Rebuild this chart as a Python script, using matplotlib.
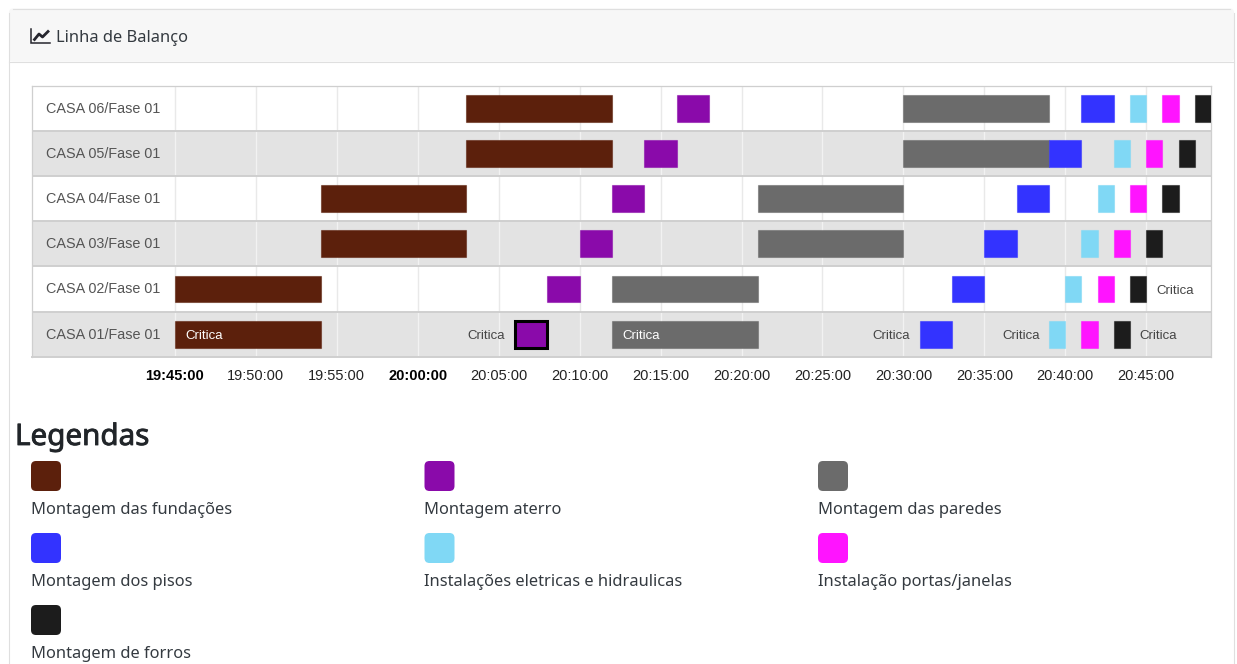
import matplotlib
matplotlib.use('Agg')
import matplotlib.pyplot as plt
import matplotlib.patheffects as pe
from matplotlib.colors import to_rgba
from matplotlib.patches import FancyBboxPatch, Rectangle

# Times are minutes after 19:45:00
houses = ['CASA 01/Fase 01', 'CASA 02/Fase 01', 'CASA 03/Fase 01',
          'CASA 04/Fase 01', 'CASA 05/Fase 01', 'CASA 06/Fase 01']

activities = ['Montagem das fundações', 'Montagem aterro', 'Montagem das paredes',
              'Montagem dos pisos', 'Instalações eletricas e hidraulicas',
              'Instalação portas/janelas', 'Montagem de forros']
colors = ['#5c200c', '#8a0aaa', '#6b6b6b', '#3333ff', '#80d8f5', '#ff14ff', '#1c1c1c']

# one list per activity, one (start, end) per house
fundacoes = [(0, 9), (0, 9), (9, 18), (9, 18), (18, 27), (18, 27)]
aterro = [(21, 23), (23, 25), (25, 27), (27, 29), (29, 31), (31, 33)]
paredes = [(27, 36), (27, 36), (36, 45), (36, 45), (45, 54), (45, 54)]
pisos = [(46, 48), (48, 50), (50, 52), (52, 54), (54, 56), (56, 58)]
eletricas = [(54, 55), (55, 56), (56, 57), (57, 58), (58, 59), (59, 60)]
portas = [(56, 57), (57, 58), (58, 59), (59, 60), (60, 61), (61, 62)]
forros = [(58, 59), (59, 60), (60, 61), (61, 62), (62, 63), (63, 64)]
schedule = [fundacoes, aterro, paredes, pisos, eletricas, portas, forros]

tick_minutes = list(range(0, 61, 5))
tick_labels = ['19:45:00', '19:50:00', '19:55:00', '20:00:00', '20:05:00', '20:10:00', '20:15:00',
               '20:20:00', '20:25:00', '20:30:00', '20:35:00', '20:40:00', '20:45:00']
bold_ticks = ['19:45:00', '20:00:00']

# (activity, house, side of the bar for the label)
critical = [(0, 0, 'inside'), (1, 0, 'left'), (2, 0, 'inside'), (3, 0, 'left'),
            (4, 0, 'left'), (6, 0, 'right'), (6, 1, 'right')]

W, H = 1237, 664
page_font = 'Noto Sans'
chart_font = 'Liberation Sans'


def px(size):
    return size * 0.72


fig = plt.figure(figsize=(W / 100, H / 100), dpi=100, facecolor='white')

# page layer, in pixels
page = fig.add_axes([0, 0, 1, 1])
page.set_xlim(0, W)
page.set_ylim(H, 0)
page.axis('off')

page.add_patch(FancyBboxPatch((9, 8.5), 1225, 53, boxstyle='round,pad=0,rounding_size=4',
                              fc='#f7f7f7', ec='none'))
page.plot([9, 9], [12.5, H], color='#dfdfdf', lw=0.8)
page.plot([1234, 1234], [12.5, H], color='#dfdfdf', lw=0.8)
page.plot([13, 1230], [8.5, 8.5], color='#dfdfdf', lw=0.8)
page.plot([9, 1234], [62, 62], color='#dfdfdf', lw=0.8)

# line chart icon
page.plot([31, 31, 50], [29, 43, 43], color='#26262e', lw=1.1, solid_joinstyle='miter')
page.plot([34.5, 39, 42.5, 48], [39.5, 34, 37, 31.5], color='#26262e', lw=2)
page.text(56, 37.5, 'Linha de Balanço', fontsize=px(16.4), family=page_font,
          color='#343a40', va='center', ha='left')

page.text(15, 437.5, 'Legendas', fontsize=px(29.6), family=page_font,
          color='#212529', va='center', ha='left',
          path_effects=[pe.withStroke(linewidth=0.6, foreground='#212529')])

for i, (name, col) in enumerate(zip(activities, colors)):
    x = 31 + 393.5 * (i % 3)
    y = 461 + 72 * (i // 3)
    page.add_patch(FancyBboxPatch((x, y), 30, 30, boxstyle='round,pad=0,rounding_size=5',
                                  fc=col, ec='none'))
    page.text(x, y + 49.5, name, fontsize=px(16.5), family=page_font, color='#343a40',
              va='center', ha='left')

# chart layer, the left part of the axes holds the row labels
left, right, top, bottom = 32, 1211, 85.6, 356.8
per_minute = (1147 - 175) / 60
ax = fig.add_axes([left / W, 1 - bottom / H, (right - left) / W, (bottom - top) / H])
ax.set_xlim((left - 175) / per_minute, 64)
ax.set_ylim(-0.5, 5.5)
ax.patch.set_alpha(0)

for r, house in enumerate(houses):
    shaded = r % 2 == 0
    ax.axhspan(r - 0.5, r + 0.5, color='#e3e3e3' if shaded else 'white', lw=0, zorder=0)
    ax.vlines(tick_minutes, r - 0.5, r + 0.5, color='#f2f2f2' if shaded else '#e9e9e9',
              lw=1, zorder=1)
    ax.hlines(r + 0.5, ax.get_xlim()[0], 64, color='#cfcfcf', lw=1.4, zorder=2)
    ax.text(-7.97, r - 0.01, house, fontsize=px(14.4), family=chart_font, color='#555555',
            va='center', ha='left', zorder=5)

for a, spans in enumerate(schedule):
    for r, (start, end) in enumerate(spans):
        ax.barh(r, end - start, left=start, height=0.595, color=colors[a],
                edgecolor=to_rgba(colors[a], 0.55), lw=0.8, zorder=3 + a * 0.01)

for a, r, side in critical:
    start, end = schedule[a][r]
    if side == 'inside':
        ax.text(start + 0.66, r - 0.035, 'Critica', fontsize=px(13.3), family=chart_font,
                color='white', va='center', ha='left', zorder=6)
    elif side == 'left':
        ax.text(start - 0.6, r - 0.035, 'Critica', fontsize=px(13.3), family=chart_font,
                color='#444444', va='center', ha='right', zorder=6)
    else:
        ax.text(end + 0.6, r - 0.035, 'Critica', fontsize=px(13.3), family=chart_font,
                color='#444444', va='center', ha='left', zorder=6)

# the critical fill stage gets a heavy black outline
start, end = aterro[0]
ax.add_patch(Rectangle((start, -0.3), end - start, 0.6, fc=colors[1], ec='black', lw=2.2, zorder=4))

for side in ['top', 'left', 'right', 'bottom']:
    ax.spines[side].set_color('#cfcfcf')
    ax.spines[side].set_linewidth(0.9)
ax.spines['bottom'].set_linewidth(1.4)

ax.set_yticks([])
ax.set_xticks(tick_minutes)
ax.set_xticklabels(tick_labels, fontsize=px(14.6), family=chart_font, color='#222222')
ax.tick_params(axis='x', length=0, pad=8.5)
for lab in ax.get_xticklabels():
    if lab.get_text() in bold_ticks:
        lab.set_fontweight('bold')
        lab.set_color('#000000')

fig.savefig('out.png', dpi=100)
